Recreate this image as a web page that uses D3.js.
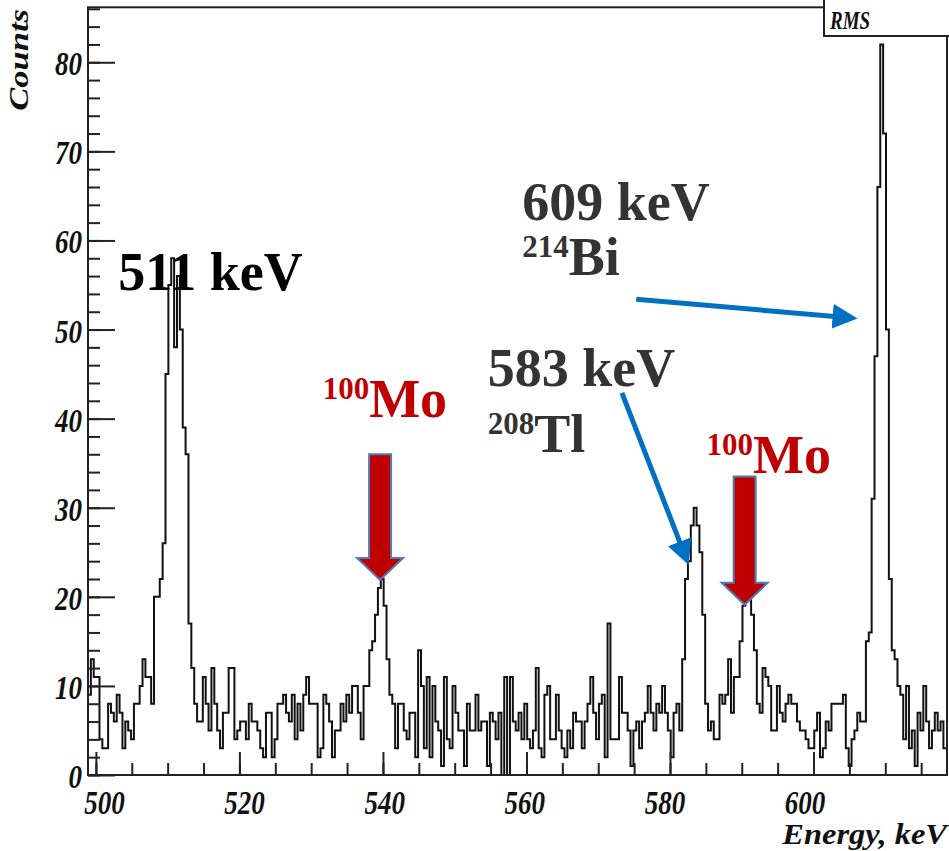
<!DOCTYPE html>
<html>
<head>
<meta charset="utf-8">
<script src="https://d3js.org/d3.v7.min.js"></script>
<style>
body { margin: 0; background: #fff; }
svg { display: block; }
</style>
</head>
<body>
<div class="chart"></div>
<script>
// Set Dimensions
const width = 949, height = 851;
const frame = {left: 88, right: 947, top: 7.3, bottom: 775};

// histogram, 0.4 keV bins from 498.9 keV
const binStart = 498.9;
const binWidth = 0.4;
const counts = [
  9,13,11,11,4,3,3,8,7,6,9,7,3,6,5,4,8,8,10,13,11,11,8,
  20,20,22,26,45,55,58,48,56,50,39,36,17,12,8,6,
  6,11,8,5,12,8,5,3,7,7,12,12,4,5,6,6,4,8,6,6,5,3,2,7,7,2,4,8,8,9,7,6,9,4,8,5,9,11,
  8,8,8,2,3,9,8,6,2,5,5,8,6,9,7,10,10,7,4,10,10,14,15,18,21,22,19,13,9,8,3,8,8,5,4,7,7,2,14,
  10,3,11,2,10,6,5,1,11,4,3,10,7,5,5,1,8,5,5,9,5,6,6,1,7,6,4,7,0,11,0,11,6,5,7,4,8,4,
  3,5,12,3,2,9,10,4,4,9,5,3,2,5,3,7,6,6,3,6,8,11,7,4,8,9,2,17,4,4,4,11,7,7,5,1,5,6,
  3,6,7,10,7,5,8,7,10,7,5,2,7,8,5,13,22,24,28,30,28,25,18,8,5,6,4,4,9,8,9,13,7,11,11,15,19,20,20,
  18,14,8,7,12,11,10,5,5,10,7,6,8,9,8,8,6,5,5,4,3,3,5,7,2,3,6,5,8,8,8,8,9,3,1,4,5,7,6,6,
  15,16,31,47,66,82,72,50,22,14,13,10,9,4,10,3,5,1,7,5,10,6,3,5,7,5,6,3
];

const xDomain = [498.9, 618.6];
const yDomain = [0, 86.17];
const xTicks = [500, 520, 540, 560, 580, 600];
const xMinor = d3.range(500, 620, 5);
const yTicks = [0, 10, 20, 30, 40, 50, 60, 70, 80];
const yMinor = d3.range(0, 87, 2);

// annotations (data coordinates)
const peakLabels = [
  {text: "511 keV", e: 503.1, c: 54.4, color: "#000"},
  {text: "609 keV", e: 559.4, c: 62.3, color: "#333"},
  {text: "583 keV", e: 554.6, c: 43.7, color: "#333"}
];
const isotopeLabels = [
  {mass: "214", sym: "Bi", e: 559.4, c: 56.1, color: "#333"},
  {mass: "208", sym: "Tl", e: 554.6, c: 36.3, color: "#333"},
  {mass: "100", sym: "Mo", e: 531.6, c: 40.2, color: "#c00000"},
  {mass: "100", sym: "Mo", e: 585.1, c: 33.9, color: "#c00000"}
];
const redArrows = [
  {e: 539.6, top: 36.0, tip: 21.9},
  {e: 590.4, top: 33.5, tip: 19.1}
];
const blueArrows = [
  {e0: 575.3, c0: 53.4, e1: 605.3, c1: 51.3},
  {e0: 573.3, c0: 42.9, e1: 582.3, c1: 24.2}
];

const svg = d3.select(".chart")
  .append("svg")
  .attr("width", width)
  .attr("height", height);

const x = d3.scaleLinear().domain(xDomain).range([frame.left, frame.right]);
const y = d3.scaleLinear().domain(yDomain).range([frame.bottom, frame.top]);

const serif = "'Liberation Serif', 'Times New Roman', serif";
const stretch = 1.28;

// histogram outline
const pts = counts.map((c, i) => ({e: binStart + i * binWidth, c: c}));
pts.push({e: binStart + counts.length * binWidth, c: counts[counts.length - 1]});

svg.append("path")
  .datum(pts)
  .attr("fill", "none")
  .attr("stroke", "#111")
  .attr("stroke-width", 2)
  .attr("d", d3.line().x(d => x(d.e)).y(d => y(d.c)).curve(d3.curveStepAfter));

// frame
svg.append("rect")
  .attr("x", frame.left).attr("y", frame.top)
  .attr("width", frame.right - frame.left)
  .attr("height", frame.bottom - frame.top)
  .attr("fill", "none")
  .attr("stroke", "#222")
  .attr("stroke-width", 2);

// x axis minor + major ticks (inside)
const gxm = svg.append("g")
  .attr("transform", "translate(0," + frame.bottom + ")")
  .call(d3.axisBottom(x).tickValues(xMinor).tickSize(-12).tickFormat(""));
const gx = svg.append("g")
  .attr("transform", "translate(0," + frame.bottom + ")")
  .call(d3.axisBottom(x).tickValues(xTicks).tickSize(-23).tickFormat(d3.format("d")));
[gxm, gx].forEach(g => {
  g.select(".domain").remove();
  g.selectAll("line").attr("stroke", "#222").attr("stroke-width", 2);
});
// labels sit a little off their ticks in the original picture
const labelShift = v => 8 - (v - 500) * 0.17;
gx.selectAll("text")
  .attr("y", null).attr("dy", null)
  .attr("transform", d => "translate(" + labelShift(d) + ",39) scale(1," + stretch + ")")
  .attr("fill", "#111")
  .style("font-family", serif)
  .style("font-weight", "bold")
  .style("font-style", "italic")
  .style("font-size", "27px");

// y axis
const gym = svg.append("g")
  .attr("transform", "translate(" + frame.left + ",0)")
  .call(d3.axisLeft(y).tickValues(yMinor).tickSize(-12).tickFormat(""));
const gy = svg.append("g")
  .attr("transform", "translate(" + frame.left + ",0)")
  .call(d3.axisLeft(y).tickValues(yTicks).tickSize(-27).tickFormat(d3.format("d")));
[gym, gy].forEach(g => {
  g.select(".domain").remove();
  g.selectAll("line").attr("stroke", "#222").attr("stroke-width", 2);
});
gy.selectAll("text")
  .attr("x", null).attr("dy", null)
  .attr("transform", "translate(-6,12.5) scale(1," + stretch + ")")
  .attr("fill", "#111")
  .style("font-family", serif)
  .style("font-weight", "bold")
  .style("font-style", "italic")
  .style("font-size", "27px");

// axis titles
svg.append("text")
  .attr("transform", "translate(28,9) rotate(-90) scale(" + stretch + ",1)")
  .attr("text-anchor", "end")
  .style("font-family", serif).style("font-weight", "bold").style("font-style", "italic")
  .style("font-size", "27px").attr("fill", "#111")
  .text("Counts");

svg.append("text")
  .attr("transform", "translate(947,844) scale(1.12,1)")
  .attr("text-anchor", "end")
  .style("font-family", serif).style("font-weight", "bold").style("font-style", "italic")
  .style("font-size", "29px").attr("fill", "#111")
  .text("Energy, keV");

// stats box
svg.append("rect")
  .attr("x", 824).attr("y", -2).attr("width", 140).attr("height", 38)
  .attr("fill", "#fff").attr("stroke", "#222").attr("stroke-width", 2);
svg.append("text")
  .attr("transform", "translate(830,29) scale(1," + stretch + ")")
  .style("font-family", serif).style("font-weight", "bold").style("font-style", "italic")
  .style("font-size", "19px").attr("fill", "#111")
  .text("RMS");

// red block arrows
redArrows.forEach(a => {
  const cx = x(a.e), t = y(a.top), tip = y(a.tip);
  const hw = 11, head = 23, hh = 22;
  const p = d3.path();
  p.moveTo(cx - hw, t);
  p.lineTo(cx + hw, t);
  p.lineTo(cx + hw, tip - hh);
  p.lineTo(cx + head, tip - hh);
  p.lineTo(cx, tip);
  p.lineTo(cx - head, tip - hh);
  p.lineTo(cx - hw, tip - hh);
  p.closePath();
  svg.append("path").attr("d", p.toString())
    .attr("fill", "#c00000").attr("stroke", "#4f7db5").attr("stroke-width", 2);
});

// blue arrows
const defs = svg.append("defs");
defs.append("marker")
  .attr("id", "bluehead")
  .attr("viewBox", "0 0 10 10")
  .attr("refX", 2).attr("refY", 5)
  .attr("markerWidth", 5).attr("markerHeight", 5)
  .attr("orient", "auto")
  .append("path").attr("d", "M0,0 L10,5 L0,10 z").attr("fill", "#0070c0");

blueArrows.forEach(a => {
  const x0 = x(a.e0), y0 = y(a.c0), x1 = x(a.e1), y1 = y(a.c1);
  const len = Math.hypot(x1 - x0, y1 - y0);
  const k = (len - 14) / len;
  svg.append("line")
    .attr("x1", x0).attr("y1", y0)
    .attr("x2", x0 + (x1 - x0) * k).attr("y2", y0 + (y1 - y0) * k)
    .attr("stroke", "#0070c0").attr("stroke-width", 5)
    .attr("marker-end", "url(#bluehead)");
});

// peak labels
peakLabels.forEach(l => {
  svg.append("text")
    .attr("x", x(l.e)).attr("y", y(l.c))
    .style("font-family", serif).style("font-weight", "bold")
    .style("font-size", "54px").attr("fill", l.color)
    .text(l.text);
});

isotopeLabels.forEach(l => {
  const t = svg.append("text")
    .attr("x", x(l.e)).attr("y", y(l.c))
    .style("font-family", serif).style("font-weight", "bold")
    .attr("fill", l.color);
  t.append("tspan").style("font-size", "31px").attr("dy", -18).text(l.mass);
  t.append("tspan").style("font-size", "54px").attr("dy", 18).text(l.sym);
});
</script>
</body>
</html>
